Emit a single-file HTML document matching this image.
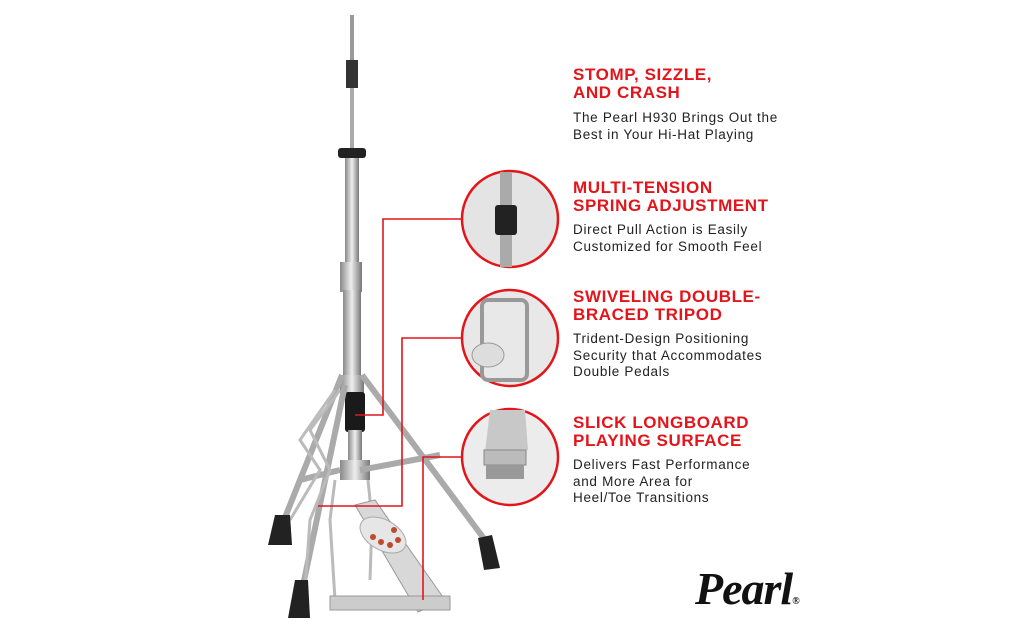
<!DOCTYPE html>
<html><head><meta charset="utf-8"><style>
body{margin:0;width:1024px;height:636px;background:#fff;position:relative;overflow:hidden;font-family:"Liberation Sans",sans-serif}
.h{position:absolute;left:573px;color:#e3151b;font-weight:bold;font-size:17px;line-height:18px;letter-spacing:0.6px}
.p{position:absolute;left:573px;color:#222;font-size:13.5px;line-height:16.5px;letter-spacing:0.7px}
.logo{position:absolute;left:695px;top:562px;font-family:"Liberation Serif",serif;font-style:italic;font-weight:bold;font-size:46px;color:#111;letter-spacing:-1px}
</style></head><body>
<svg width="1024" height="636" style="position:absolute;left:0;top:0">
<defs><linearGradient id="m" x1="0" x2="1"><stop offset="0" stop-color="#888"/><stop offset=".5" stop-color="#eee"/><stop offset="1" stop-color="#777"/></linearGradient></defs>
<rect x="350" y="15" width="4" height="70" fill="#999"/>
<rect x="346" y="60" width="12" height="28" fill="#333"/>
<rect x="350" y="88" width="4" height="60" fill="#aaa"/>
<rect x="338" y="148" width="28" height="10" rx="3" fill="#222"/>
<rect x="345" y="158" width="14" height="110" fill="url(#m)"/>
<rect x="340" y="262" width="22" height="30" fill="url(#m)"/>
<rect x="343" y="290" width="18" height="90" fill="url(#m)"/>
<rect x="340" y="375" width="24" height="18" fill="url(#m)"/>
<rect x="345" y="392" width="20" height="40" rx="3" fill="#1a1a1a"/>
<rect x="348" y="430" width="14" height="40" fill="url(#m)"/>
<rect x="340" y="460" width="30" height="20" fill="url(#m)"/>
<g stroke="#aaa" stroke-width="6" fill="none">
<line x1="362" y1="375" x2="485" y2="540"/>
<line x1="342" y1="375" x2="280" y2="530"/>
<line x1="345" y1="385" x2="300" y2="600"/>
<line x1="360" y1="470" x2="440" y2="455"/>
<line x1="340" y1="470" x2="300" y2="480"/>
</g>
<g stroke="#bbb" stroke-width="3" fill="none">
<polyline points="340,390 310,430 330,470 310,520 305,590"/>
<polyline points="335,390 300,440 320,470 290,520"/>
<polyline points="335,480 330,520 335,600"/>
<polyline points="368,480 372,520 370,580"/>
</g>
<polygon points="275,515 290,515 292,545 268,545" fill="#222"/>
<polygon points="478,538 492,535 500,568 484,570" fill="#222"/>
<polygon points="295,580 308,580 310,618 288,618" fill="#222"/>
<polygon points="355,505 375,500 445,600 418,612" fill="#d8d8d8" stroke="#999"/>
<ellipse cx="383" cy="535" rx="25" ry="15" fill="#e6e6e6" stroke="#aaa" transform="rotate(30 383 535)"/>
<g fill="#c04a2a"><circle cx="373" cy="537" r="3"/><circle cx="381" cy="542" r="3"/><circle cx="390" cy="545" r="3"/><circle cx="398" cy="540" r="3"/><circle cx="394" cy="530" r="3"/></g>
<rect x="330" y="596" width="120" height="14" fill="#ccc" stroke="#999"/>
<g stroke="#e3151b" stroke-width="1.6" fill="none">
<polyline points="355,415 383,415 383,219 462,219"/>
<polyline points="318,506 402,506 402,338 462,338"/>
<polyline points="423,600 423,457 462,457"/>
</g>
<g stroke="#e3151b" stroke-width="2.5">
<circle cx="510" cy="219" r="48" fill="#e4e4e4"/>
<circle cx="510" cy="338" r="48" fill="#e8e8e8"/>
<circle cx="510" cy="457" r="48" fill="#ececec"/>
</g>
<rect x="495" y="205" width="22" height="30" rx="3" fill="#222"/>
<rect x="500" y="235" width="12" height="32" fill="#aaa"/>
<rect x="500" y="172" width="12" height="33" fill="#aaa"/>
<rect x="482" y="300" width="45" height="80" rx="6" fill="none" stroke="#999" stroke-width="4"/>
<ellipse cx="488" cy="355" rx="16" ry="12" fill="#ddd" stroke="#999"/>
<polygon points="490,410 525,410 528,450 485,452" fill="#c8c8c8"/>
<rect x="484" y="450" width="42" height="15" fill="#bbb" stroke="#888"/>
<rect x="486" y="465" width="38" height="14" fill="#999"/>
</svg>
<div class="h" style="top:66px">STOMP, SIZZLE,<br>AND CRASH</div>
<div class="p" style="top:110px">The Pearl H930 Brings Out the<br>Best in Your Hi-Hat Playing</div>
<div class="h" style="top:179px">MULTI-TENSION<br>SPRING ADJUSTMENT</div>
<div class="p" style="top:222px">Direct Pull Action is Easily<br>Customized for Smooth Feel</div>
<div class="h" style="top:288px">SWIVELING DOUBLE-<br>BRACED TRIPOD</div>
<div class="p" style="top:331px">Trident-Design Positioning<br>Security that Accommodates<br>Double Pedals</div>
<div class="h" style="top:414px">SLICK LONGBOARD<br>PLAYING SURFACE</div>
<div class="p" style="top:457px">Delivers Fast Performance<br>and More Area for<br>Heel/Toe Transitions</div>
<div class="logo">Pearl<span style="font-size:10px">®</span></div>
</body></html>
